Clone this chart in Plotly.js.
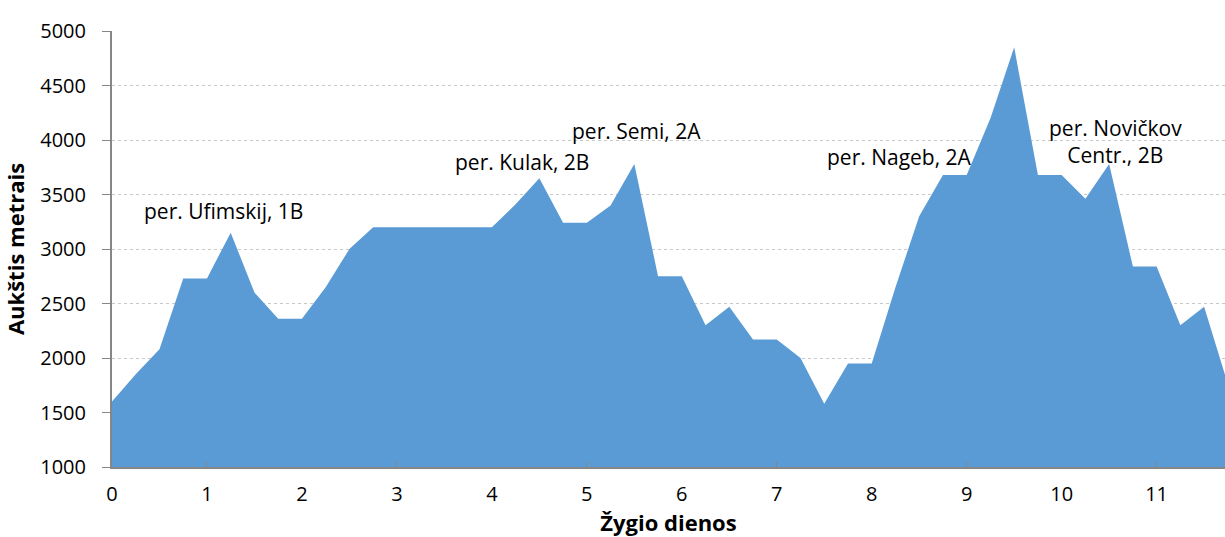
<!DOCTYPE html>
<html>
<head>
<meta charset="utf-8">
<script src="https://cdn.plot.ly/plotly-3.0.1.min.js"></script>
<style>html,body{margin:0;padding:0;background:#fff}#chart{width:1225px;height:537px}</style>
</head>
<body>
<div id="chart"></div>
<script>
// Day of hike (quarter-day steps)
const days = [0,0.25,0.5,0.75,1,1.25,1.5,1.75,2,2.25,2.5,2.75,3,3.25,3.5,3.75,4,4.25,4.5,4.75,5,5.25,5.5,5.75,6,6.25,6.5,6.75,7,7.25,7.5,7.75,8,8.25,8.5,8.75,9,9.25,9.5,9.75,10,10.25,10.5,10.75,11,11.25,11.5,11.75];
// Altitude in metres
const altitude = [1600,1850,2080,2730,2730,3150,2600,2360,2360,2650,3000,3200,3200,3200,3200,3200,3200,3410,3650,3240,3240,3400,3780,2750,2750,2300,2470,2170,2170,2000,1580,1950,1950,2650,3300,3680,3680,4200,4850,3680,3680,3460,3780,2840,2840,2300,2470,1760];
// Pass labels
const passNames = ["per. Ufimskij, 1B","per. Kulak, 2B","per. Semi, 2A","per. Nageb, 2A","virš. Tetnuld, 2B","per. Novičkov<br>Centr., 2B"];
const passX = [1.17,4.32,5.52,8.29,9.52,10.57];
const passY = [3350,3800,4085,3846,5087,3989];
const xTicks = [0,1,2,3,4,5,6,7,8,9,10,11];

const font = "'Open Sans', sans-serif";
const trace = {
  x: days, y: altitude, type: 'scatter', mode: 'lines',
  fill: 'tozeroy', fillcolor: '#5B9BD5',
  line: {width: 0, color: '#5B9BD5'}, hoverinfo: 'x+y'
};
const annotations = passNames.map((t,i)=>({
  x: passX[i], y: passY[i], xref:'x', yref:'y', text: t, showarrow:false,
  font:{family:font, size:21, color:'#000'}, align:'center'
}));
const layout = {
  width:1225, height:537,
  margin:{l:112, r:0, t:31, b:70},
  paper_bgcolor:'#fff', plot_bgcolor:'#fff',
  showlegend:false,
  font:{family:font, color:'#000'},
  xaxis:{
    range:[0,11.72], tickvals:xTicks, ticktext:xTicks.map(String),
    showgrid:false, zeroline:false, showline:true, linecolor:'#868686', linewidth:2,
    ticks:'', tickfont:{size:20, family:font}, ticklen:0, ticklabelstandoff:8,
    minor:{tickvals:[1,3,5,7,9,11], ticks:'inside', ticklen:5, tickcolor:'#868686', tickwidth:1, showgrid:false},
    title:{text:'<b>Žygio dienos</b>', font:{size:22, family:font}, standoff:0}
  },
  yaxis:{
    range:[1000,5000], dtick:500, tick0:1000,
    showgrid:true, gridcolor:'#c8c8c8', griddash:'dot', gridwidth:1,
    zeroline:false, showline:true, linecolor:'#868686', linewidth:2,
    ticks:'outside', ticklen:8, tickcolor:'#868686', tickwidth:1,
    tickfont:{size:20, family:font}, ticklabelstandoff:12,
    title:{text:'<b>Aukštis metrais</b>', font:{size:22, family:font}, standoff:10}
  },
  annotations: annotations
};
Plotly.newPlot('chart',[trace],layout,{displayModeBar:false, staticPlot:true});
</script>
</body>
</html>
